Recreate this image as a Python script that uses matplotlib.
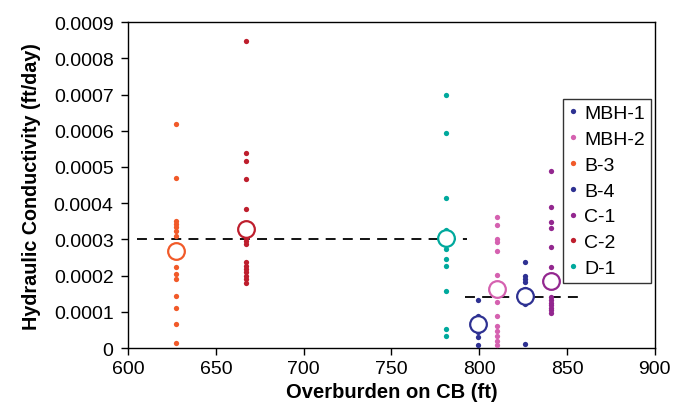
import matplotlib
matplotlib.use('Agg')
import matplotlib.pyplot as plt

plt.rcParams['font.family'] = ['Liberation Sans', 'DejaVu Sans']

# overburden (ft) for each borehole, and hydraulic conductivity samples (ft/day)
wells = ['MBH-1', 'MBH-2', 'B-3', 'B-4', 'C-1', 'C-2', 'D-1']
colors = ['#2e3192', '#d561b0', '#f15a29', '#2e3192', '#93278f', '#be1e2d', '#00a99d']
overburden = [799, 810, 627, 826, 841, 667, 781]

k_mbh1 = [0.000133, 0.000089, 0.000043, 0.000030, 0.000008]
k_mbh2 = [0.000361, 0.000340, 0.000301, 0.000292, 0.000269, 0.000202, 0.000126,
          0.000089, 0.000062, 0.000048, 0.000034, 0.000020, 0.000008]
k_b3 = [0.000619, 0.000470, 0.000352, 0.000343, 0.000333, 0.000324, 0.000309,
        0.000223, 0.000204, 0.000191, 0.000145, 0.000110, 0.000066, 0.000014]
k_b4 = [0.000238, 0.000200, 0.000190, 0.000183, 0.000163, 0.000122, 0.000011]
k_c1 = [0.000488, 0.000390, 0.000349, 0.000331, 0.000278, 0.000225, 0.000140,
        0.000133, 0.000125, 0.000118, 0.000111, 0.000105, 0.000098]
k_c2 = [0.000847, 0.000539, 0.000517, 0.000466, 0.000384, 0.000303, 0.000296,
        0.000287, 0.000237, 0.000227, 0.000218, 0.000209, 0.000200, 0.000191, 0.000180]
k_d1 = [0.000699, 0.000594, 0.000415, 0.000327, 0.000315, 0.000287, 0.000273,
        0.000246, 0.000227, 0.000158, 0.000053, 0.000034]
samples = [k_mbh1, k_mbh2, k_b3, k_b4, k_c1, k_c2, k_d1]

# averages shown as open circles
k_mean = [0.0000663, 0.000163, 0.000267, 0.000145, 0.000186, 0.000329, 0.000303]

# dashed average lines: (x start, x end, value)
avg_lines = [(605, 793, 0.0003), (792, 860, 0.00014)]

fig = plt.figure(figsize=(6.85, 4.14), dpi=100)
ax = fig.add_axes([0.187, 0.157, 0.769, 0.787])

for name, c, x, ks in zip(wells, colors, overburden, samples):
    ax.plot([x] * len(ks), ks, 'o', color=c, markersize=3.8,
            markeredgewidth=0, label=name, zorder=3)
for c, x, m in zip(colors, overburden, k_mean):
    ax.plot(x, m, 'o', markerfacecolor='white', markeredgecolor=c,
            markersize=12, markeredgewidth=1.6, zorder=4)
for x0, x1, v in avg_lines:
    ax.plot([x0, x1], [v, v], '--', color='black', linewidth=1.3,
            dashes=(5.5, 4), zorder=2)

ax.set_xlim(600, 900)
ax.set_ylim(0, 0.0009)
ax.set_xticks(range(600, 901, 50))
ax.set_yticks([i * 0.0001 for i in range(10)])
ax.set_yticklabels(['0'] + ['%.4f' % (i * 0.0001) for i in range(1, 10)])
ax.tick_params(direction='out', length=5, width=1)
ax.tick_params(axis='x', labelsize=14)
ax.tick_params(axis='y', labelsize=14, pad=5.5)
for s in ax.spines.values():
    s.set_linewidth(1)

ax.set_xlabel('Overburden on CB (ft)', fontsize=14.5, fontweight='bold', labelpad=4)
ax.set_ylabel('Hydraulic Conductivity (ft/day)', fontsize=14.2, fontweight='bold', labelpad=9)

leg = ax.legend(loc='upper right', bbox_to_anchor=(0.992, 0.765),
                fontsize=14, frameon=True, fancybox=False, handlelength=0.5,
                handletextpad=0.3, borderpad=0.3, labelspacing=0.42,
                borderaxespad=0, markerscale=1.0)
leg.get_frame().set_edgecolor('black')
leg.get_frame().set_linewidth(1)

fig.savefig('out.png', dpi=100)
